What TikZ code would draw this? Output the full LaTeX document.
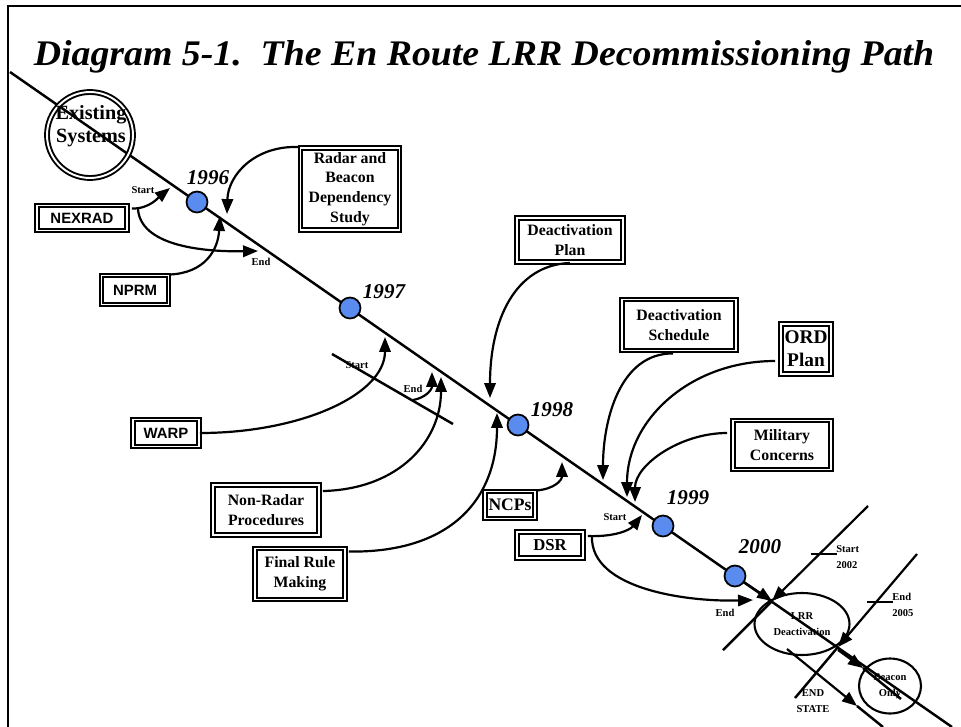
\documentclass[tikz,border=0pt]{standalone}
\usepackage{fontspec}
\setmainfont{Liberation Serif}
\setsansfont{Liberation Sans}
\usetikzlibrary{
    positioning,
    arrows.meta,
    calc,
    shapes.geometric
}
\definecolor{yearBlue}{RGB}{90, 140, 240}

\begin{document}
\begin{tikzpicture}[x=0.02cm, y=-0.02cm,
    box/.style={draw, line width=1.1pt, double, double distance=1.1pt, align=center,
        inner sep=1pt, font=\fontsize{9}{11.3}\selectfont\bfseries},
    sbox/.style={box, font=\fontsize{8.5}{10}\selectfont\sffamily\bfseries},
    year/.style={circle, draw, line width=1pt, fill=yearBlue, minimum size=0.42cm, inner sep=0pt},
    yearlbl/.style={font=\fontsize{12}{14}\selectfont\bfseries\itshape, inner sep=0pt},
    small/.style={font=\fontsize{6}{9}\selectfont\bfseries, inner sep=0pt, align=center},
    arr/.style={line width=1.25pt, -{Triangle[length=8.5pt,width=6.5pt]}},
    path/.style={line width=1.4pt}
]
    \useasboundingbox (0,0) rectangle (961,727);
    % frame and title
    \draw[line width=1.7pt] (961,6) -- (8,6) -- (8,727);
    \node[font=\fontsize{20.5}{23}\selectfont\bfseries\itshape] (title) at (484,57)
        {\scalebox{1.05}[1]{Diagram 5-1.\ \ The En Route LRR Decommissioning Path}};

    % the path
    \coordinate (P0) at (10,72);
    \coordinate (P1) at (952,727);
    \coordinate (X1) at (772,601);
    \coordinate (X2) at (838,647);
    \draw[path] (P0) -- (P1);

    % boxes
    \node[draw, circle, line width=1.1pt, double, double distance=1.1pt, minimum size=1.72cm] (exist) at (90,135) {};
    \node[font=\fontsize{11.5}{13}\selectfont\bfseries, align=center] (existtxt) at (91,126) {Existing\\Systems};
    \node[sbox, minimum width=1.8cm, minimum height=0.5cm] (nexrad) at (82,218) {NEXRAD};
    \node[sbox, minimum width=1.34cm, minimum height=0.58cm] (nprm) at (135,290) {NPRM};
    \node[box, minimum width=1.98cm, minimum height=1.64cm] (radar) at (350,189)
        {Radar and\\Beacon\\Dependency\\Study};
    \node[sbox, minimum width=1.32cm, minimum height=0.54cm] (warp) at (166,433) {WARP};
    \node[box, minimum width=2.12cm, minimum height=1.0cm] (nonradar) at (266,510)
        {Non-Radar\\Procedures};
    \node[box, minimum width=1.8cm, minimum height=1.02cm] (finalrule) at (300,574)
        {Final Rule\\Making};
    \node[box, minimum width=2.12cm, minimum height=0.88cm] (dplan) at (570,240)
        {Deactivation\\Plan};
    \node[box, minimum width=2.28cm, minimum height=1.02cm] (dsched) at (679,325)
        {Deactivation\\Schedule};
    \node[box, font=\fontsize{11}{13}\selectfont\bfseries, minimum width=1.0cm, minimum height=1.0cm] (ord) at (806,349)
        {ORD\\Plan};
    \node[box, minimum width=1.96cm, minimum height=0.98cm] (military) at (782,445)
        {Military\\Concerns};
    \node[box, font=\fontsize{10}{12}\selectfont\bfseries, minimum width=1.0cm, minimum height=0.54cm] (ncps) at (510,505) {NCPs};
    \node[box, font=\fontsize{9.5}{12}\selectfont\bfseries, minimum width=1.32cm, minimum height=0.52cm] (dsr) at (550,545) {DSR};

    % years
    \node[year] (y96) at (197,202) {};
    \node[year] (y97) at (350,308) {};
    \node[year] (y98) at (518,425) {};
    \node[year] (y99) at (663,526) {};
    \node[year] (y00) at (735,576) {};
    \node[yearlbl] (l96) at (208,178) {1996};
    \node[yearlbl] (l97) at (384,292) {1997};
    \node[yearlbl] (l98) at (552,410) {1998};
    \node[yearlbl] (l99) at (688,498) {1999};
    \node[yearlbl] (l00) at (760,547) {2000};

    % 1996
    \coordinate (s96) at (170,188);
    \coordinate (e96) at (258,251);
    \coordinate (t96a) at (220,216);
    \coordinate (t96b) at (227,214);
    \draw[arr] ($(nexrad.north east)+(4,4)$) .. controls (150,209) and (160,196) .. (s96);
    \draw[arr] ($(nexrad.north east)+(10,4)$) .. controls (140,245) and (200,252) .. (e96);
    \draw[arr] (nprm.north east) .. controls (205,273) and (218,250) .. (t96a);
    \draw[arr] (radar.north west) .. controls (255,145) and (228,175) .. (t96b);
    \node[small] (st96) at (143,190) {Start};
    \node[small] (en96) at (261,262) {End};

    % 1997
    \coordinate (c97a) at (332,354);
    \coordinate (c97b) at (453,424);
    \coordinate (c97e) at (413,400);
    \coordinate (s97) at (385,337);
    \coordinate (e97) at (432,372);
    \coordinate (t97) at (441,377);
    \draw[path] (c97a) -- (c97b);
    \draw[arr] (warp.east) .. controls (300,433) and (385,395) .. (s97);
    \draw[arr] (c97e) .. controls (425,398) and (432,390) .. (e97);
    \draw[arr] ($(nonradar.north east)+(3,7)$) .. controls (400,489) and (441,440) .. (t97);
    \node[small] (st97) at (357,365) {Start};
    \node[small] (en97) at (413,389) {End};

    % 1998
    \coordinate (t98a) at (497,413);
    \coordinate (t98b) at (490,398);
    \coordinate (t98c) at (562,462);
    \draw[arr] ($(finalrule.north east)+(3,4)$) .. controls (450,553) and (497,500) .. (t98a);
    \draw[arr] (dplan.south) .. controls (515,265) and (490,320) .. (t98b);
    \draw[arr] (ncps.north east) .. controls (555,489) and (562,480) .. (t98c);

    % 1999
    \coordinate (t99a) at (603,480);
    \coordinate (t99b) at (627,497);
    \coordinate (t99c) at (635,502);
    \coordinate (s99) at (642,515);
    \coordinate (e99) at (753,600);
    \draw[arr] ($(dsched.south)+(-6,2)$) .. controls (620,353) and (603,420) .. (t99a);
    \draw[arr] ($(ord.west)+(-5,12)$) .. controls (690,361) and (627,420) .. (t99b);
    \draw[arr] ($(military.west)+(-5,-12)$) .. controls (680,433) and (635,465) .. (t99c);
    \draw[arr] ($(dsr.north east)+(4,5)$) .. controls (615,537) and (630,530) .. (s99);
    \draw[arr] ($(dsr.north east)+(8,5)$) .. controls (590,590) and (690,602) .. (e99);
    \node[small] (st99) at (615,517) {Start};
    \node[small] (en99) at (725,613) {End};

    % deactivation
    \node[draw, ellipse, line width=1.2pt, minimum width=1.9cm, minimum height=1.24cm, small] (lrr) at (802,624)
        {LRR\\Deactivation};
    \node[draw, ellipse, line width=1.2pt, minimum width=1.24cm, minimum height=1.1cm, small] (beacon) at (890,686)
        {Beacon\\Only};
    \draw[arr] (y00) -- (X1);
    \draw[arr] (868,506) -- (X1);
    \draw[path] (X1) -- (723,650);
    \draw[arr] (917,554) -- (X2);
    \draw[path] (X2) -- (795,698);
    \draw[path] (811,554) -- (837,554);
    \draw[path] (867,602) -- (893,602);
    \coordinate (b1) at (863,668);
    \draw[arr] ($(X2)+(0,3)$) -- (b1);
    \draw[path] (b1) -- (901,699);
    \coordinate (es1) at (787,649);
    \coordinate (es2) at (857,706);
    \draw[arr] (es1) -- (es2);
    \draw[path] (es2) -- (883,727);
    \node[small, anchor=west] (st02) at (836,549) {Start};
    \node[small, anchor=west] (yr02) at (836,565) {2002};
    \node[small, anchor=west] (en05) at (892,597) {End};
    \node[small, anchor=west] (yr05) at (892,613) {2005};
    \node[small] (endst) at (813,701) {END\\STATE};
\end{tikzpicture}
\end{document}
